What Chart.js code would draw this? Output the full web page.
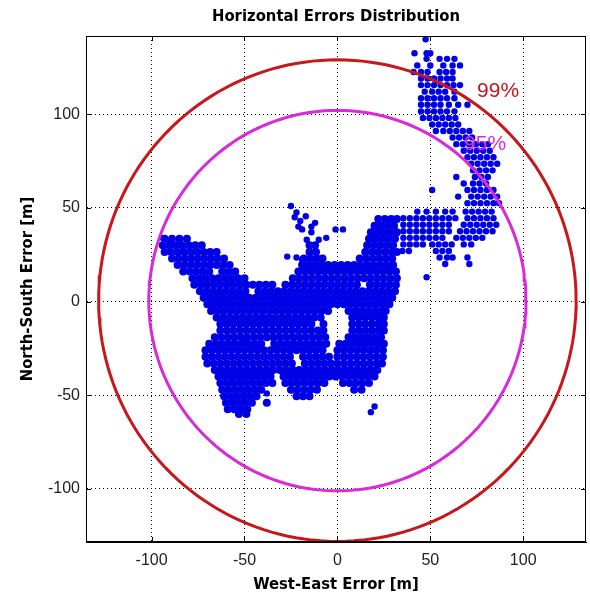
<!DOCTYPE html>
<html><head><meta charset="utf-8">
<script src="https://cdn.jsdelivr.net/npm/chart.js@4"></script>
<style>html,body{margin:0;padding:0;background:#fff}</style>
</head><body>
<canvas id="c" width="590" height="597"></canvas>
<script>
// ---------- data ----------
const chartTitle = 'Horizontal Errors Distribution';
const xAxisTitle = 'West-East Error [m]';
const yAxisTitle = 'North-South Error [m]';
const xTickValues = [-100, -50, 0, 50, 100];
const yTickValues = [-100, -50, 0, 50, 100];
const xRange = [-135.3, 133.8];
const yRange = [-128.3, 141.7];
const circleCenter = [0, 0.5];
const radius99 = 128.5;
const radius95 = 101.5;
const label99 = {text: '99%', x: 86.5, y: 112};
const label95 = {text: '95%', x: 79.5, y: 84};

// dense central cloud: north error of each row, and east errors of the dots in that row
const coreNorth = [
  44, 40.5, 37, 33.5, 30, 26.5, 23, 19.5, 16, 12.5, 9, 5.5, 2, -1.5, -5, -8.5, -12, -15.5, -19,
  -22.5, -26, -29.5, -33, -36.5, -40, -43.5, -47, -50.5, -54, -57.5, -60
];
const coreEast = [
  [22, 25.5, 29, 32],
  [20, 23.5, 27, 30.5],
  [18, 21.5, 25, 28.5, 32],
  [-93, -89, -85, -81, 17, 20.5, 24, 27.5, 31],
  [-94, -90.5, -87, -83.5, -80, -76.5, -73, -15, -12, 16, 19.5, 23, 26.5, 30],
  [-93, -89.5, -86, -82.5, -79, -75.5, -72, -68.5, -65, -15, -11.5, 15, 18.5, 22, 25.5, 29, 32],
  [-89, -85.5, -82, -78.5, -75, -71.5, -68, -64.5, -61, -18, -14.5, -11, -8, 12, 15.5, 19, 22.5, 26, 29.5],
  [-86, -82.5, -79, -75.5, -72, -68.5, -65, -61.5, -58, -19, -15.5, -12, -8.5, -5, -1.5, 2, 5.5, 9, 12.5, 16, 19.5, 23, 26.5, 30],
  [-83, -79.5, -76, -72.5, -69, -62, -58.5, -55, -21, -17.5, -14, -10.5, -7, -3.5, 0, 3.5, 7, 10.5, 14, 17.5, 21, 24.5, 28, 31.5],
  [-78, -74.5, -71, -67.5, -64, -60.5, -57, -53.5, -50, -24, -20.5, -17, -13.5, -10, -6.5, -3, 0.5, 4, 7.5, 11, 14.5, 18, 21.5, 25, 28.5, 32],
  [-77, -73.5, -70, -66.5, -63, -59.5, -56, -52.5, -49, -45.5, -42, -38.5, -35, -28, -24.5, -21, -17.5, -14, -10.5, -7, -3.5, 0, 3.5, 7, 10.5, 17.5, 21, 24.5, 28, 31.5],
  [-74, -70.5, -67, -63.5, -60, -56.5, -53, -49.5, -42.5, -39, -35.5, -32, -28.5, -25, -21.5, -18, -14.5, -11, -7.5, -4, -0.5, 3, 6.5, 10, 13.5, 17, 20.5, 24, 27.5, 31],
  [-72, -68.5, -65, -61.5, -58, -54.5, -51, -47.5, -44, -40.5, -37, -33.5, -30, -26.5, -23, -19.5, -16, -12.5, -9, -5.5, -2, 1.5, 5, 8.5, 12, 15.5, 19, 22.5, 26, 29.5],
  [-70, -66.5, -63, -59.5, -56, -52.5, -49, -45.5, -42, -38.5, -35, -31.5, -28, -24.5, -21, -17.5, -14, -10.5, -7, -3.5, 0, 3.5, 7, 10.5, 14, 17.5, 21, 24.5, 28],
  [-68, -64.5, -61, -57.5, -54, -50.5, -47, -43.5, -40, -36.5, -33, -29.5, -26, -22.5, -19, -15.5, -12, -8.5, -5, 6, 9.5, 13, 16.5, 20, 23.5, 26],
  [-65, -61.5, -58, -54.5, -51, -47.5, -44, -40.5, -37, -33.5, -30, -26.5, -23, -19.5, -16, -12.5, -9, 8, 11.5, 15, 18.5, 22, 25],
  [-63, -59.5, -56, -52.5, -49, -45.5, -42, -38.5, -35, -31.5, -28, -24.5, -21, -17.5, -14, -7.5, 8, 11.5, 15, 18.5, 22, 25],
  [-63, -59.5, -56, -52.5, -49, -45.5, -42, -38.5, -35, -31.5, -28, -24.5, -21, -17.5, -14, -10.5, -7.5, 8, 11.5, 15, 18.5, 22, 25],
  [-66, -62.5, -59, -55.5, -52, -48.5, -45, -41.5, -38, -34.5, -31, -27.5, -24, -20.5, -17, -13.5, -10, -6.5, 6, 9.5, 13, 16.5, 20, 23.5],
  [-69, -65.5, -62, -58.5, -55, -51.5, -48, -44.5, -41, -34, -30.5, -27, -23.5, -20, -16.5, -13, -9.5, -6, 1, 4.5, 8, 11.5, 15, 18.5, 22, 25],
  [-71, -67.5, -64, -60.5, -57, -53.5, -50, -46.5, -43, -39.5, -36, -32.5, -29, -25.5, -22, -18.5, -15, -11.5, -8, 0, 3.5, 7, 10.5, 14, 17.5, 21, 24.5],
  [-71, -67.5, -64, -60.5, -57, -53.5, -50, -46.5, -43, -39.5, -36, -32.5, -29, -25.5, -18.5, -15, -11.5, -8, -4.5, 0, 3.5, 7, 10.5, 14, 17.5, 21, 24.5],
  [-70, -66.5, -63, -59.5, -56, -52.5, -49, -45.5, -42, -38.5, -35, -31.5, -28, -24.5, -17.5, -14, -10.5, -7, -3.5, 0, 3.5, 7, 10.5, 14, 17.5, 21, 24],
  [-66, -62.5, -59, -55.5, -52, -48.5, -45, -41.5, -38, -34.5, -31, -27.5, -24, -20.5, -17, -13.5, -10, -6.5, -3, 0.5, 4, 7.5, 11, 14.5, 18, 21.5],
  [-64, -60.5, -57, -53.5, -50, -46.5, -43, -39.5, -36, -29, -25.5, -22, -18.5, -15, -11.5, -8, -4.5, -1, 2.5, 6, 9.5, 13, 16.5, 20],
  [-63, -59.5, -56, -52.5, -49, -45.5, -42, -38.5, -35, -28, -24.5, -21, -17.5, -14, -10.5, -7, 3, 6.5, 10, 13.5, 17],
  [-62, -58.5, -55, -51.5, -48, -44.5, -41, -25, -21.5, -18, -14.5, -11, 9, 13],
  [-61, -57.5, -54, -50.5, -47, -43.5, -22, -18.5, -15],
  [-60, -56.5, -53, -49.5, -46, -38],
  [-59, -55.5, -52, -48.5],
  [-53, -49]
];
// north-east arms: north error of each row, and east errors of the dots in that row
const armNorth = [
  48, 44.5, 41, 37.5, 34, 30.5, 27, 23.5, 20, 13,
  52.5, 56, 59.5, 63, 66.5, 70, 73.5, 77, 80.5, 84, 87.5, 91, 94.5, 98, 101.5, 105, 108.5, 112,
  115.5, 119, 122.5, 126, 129.5, 132.5, 140
];
const armEast = [
  [43, 48, 53, 58, 62, 69, 72.5, 76, 79.5, 83],
  [35.5, 39, 42.5, 46, 49.5, 53, 56.5, 60, 63.5, 70, 73.5, 77, 80.5, 84],
  [35.5, 39, 42.5, 46, 49.5, 53, 56.5, 60, 68, 71.5, 75, 78.5, 82, 85.5],
  [35.5, 39, 42.5, 46, 49.5, 53, 56.5, 60, 66, 69.5, 73, 76.5, 80, 83.5],
  [35.5, 39, 42.5, 46, 49.5, 53, 56.5, 64, 67.5, 71, 74.5, 78],
  [35.5, 39, 42.5, 46, 51, 54.5, 58, 61.5, 68, 72],
  [35, 38.5, 53, 56.5, 60],
  [55, 59, 62, 70],
  [58, 71],
  [48],
  [70, 73.5, 77, 80.5, 84, 87],
  [65, 72, 75.5, 79, 82.5, 86],
  [51, 70, 73.5, 77, 80.5, 84],
  [68, 73, 76.5, 80],
  [64, 74, 77.5, 81],
  [73, 76.5, 80, 83.5],
  [72, 75.5, 79, 82.5, 86],
  [70, 73.5, 77, 80.5, 84],
  [68, 71.5, 75, 78.5, 82],
  [64, 67.5, 71, 74.5, 78, 81],
  [62, 65.5, 69, 72.5],
  [53, 57, 60.5, 64, 67.5, 71],
  [51, 54.5, 58, 61.5, 65],
  [46, 49.5, 53, 56.5, 60, 63.5],
  [45, 48.5, 52, 55.5, 59, 63],
  [45, 48.5, 52, 55.5, 60, 65, 70],
  [45, 48.5, 52, 55.5, 59, 63],
  [47, 51, 54.5, 58, 63],
  [45, 48.5, 52, 55.5, 59, 62.5, 66],
  [45, 48.5, 52, 55.5, 59, 62],
  [41, 45, 48.5, 55, 58.5, 62],
  [43, 50, 57, 62, 66],
  [48, 55, 59, 63],
  [41.5, 48, 50],
  [47.5]
];
// isolated dots (east, north)
const scatteredDots = [
  [-25, 51], [-22, 47.5], [-23, 45], [-17, 45.5], [-21, 40], [-19, 38.5], [-14, 40], [-14, 37],
  [-16.5, 33], [-10, 33], [-6, 34], [-27, 24], [-22, 23.5], [-19, 22.5], [-1, 38.5], [3, 38.5],
  [-20, 43], [-12, 42], [20, -56], [18, -59], [-38, -49], [-94, 34], [-90, 31.5], [-72, 4]
];

// ---------- build chart ----------
function rowsToPoints(norths, easts) {
  const pts = [];
  norths.forEach((n, i) => easts[i].forEach(e => pts.push({x: e, y: n})));
  return pts;
}
const corePoints = rowsToPoints(coreNorth, coreEast);
const armPoints = rowsToPoints(armNorth, armEast).concat(scatteredDots.map(d => ({x: d[0], y: d[1]})));

function circlePoints(r) {
  const pts = [];
  for (let a = 0; a <= 360; a += 2) {
    const t = a * Math.PI / 180;
    pts.push({x: circleCenter[0] + r * Math.cos(t), y: circleCenter[1] + r * Math.sin(t)});
  }
  return pts;
}

const narrowBold = {family: "'Liberation Sans Narrow', 'Arial Narrow', 'DejaVu Sans Condensed', sans-serif", size: 16.5, weight: 'bold', lineHeight: 1.2};
const tickFont = {family: "'Liberation Sans', Arial, sans-serif", size: 16, lineHeight: 1.2};
const dotBlue = '#0000e6';

function drawLabel(chart, lab, color) {
  const {ctx, scales: {x, y}} = chart;
  ctx.save();
  ctx.font = "21px 'Liberation Sans', Arial, sans-serif";
  ctx.textAlign = 'center';
  ctx.textBaseline = 'middle';
  ctx.fillStyle = color;
  ctx.fillText(lab.text, x.getPixelForValue(lab.x), y.getPixelForValue(lab.y));
  ctx.restore();
}

const frame = {
  id: 'frame',
  afterDatasetsDraw(chart) {
    const {ctx, chartArea: a, scales: {x, y}} = chart;
    drawLabel(chart, label99, '#c8161b');
    drawLabel(chart, label95, '#d82ad8');
    ctx.save();
    ctx.strokeStyle = '#000';
    ctx.lineWidth = 1;
    ctx.strokeRect(Math.round(a.left) + 0.5, Math.round(a.top) + 0.5, Math.round(a.right - a.left) - 1, Math.round(a.bottom - a.top) - 1);
    ctx.beginPath();
    xTickValues.forEach(v => {
      const p = Math.round(x.getPixelForValue(v)) + 0.5;
      ctx.moveTo(p, a.bottom); ctx.lineTo(p, a.bottom - 5);
      ctx.moveTo(p, a.top); ctx.lineTo(p, a.top + 5);
    });
    yTickValues.forEach(v => {
      const p = Math.round(y.getPixelForValue(v)) + 0.5;
      ctx.moveTo(a.left, p); ctx.lineTo(a.left + 5, p);
      ctx.moveTo(a.right, p); ctx.lineTo(a.right - 5, p);
    });
    ctx.stroke();
    ctx.restore();
  }
};

new Chart(document.getElementById('c'), {
  type: 'scatter',
  data: {
    datasets: [
      {label: '99%', data: circlePoints(radius99), showLine: true, borderColor: '#c8161b', borderWidth: 3, pointRadius: 0, tension: 0},
      {label: '95%', data: circlePoints(radius95), showLine: true, borderColor: '#d82ad8', borderWidth: 3, pointRadius: 0, tension: 0},
      {label: 'Errors (arms)', data: armPoints, backgroundColor: dotBlue, borderWidth: 0, pointRadius: 3.2, pointHoverRadius: 3.2},
      {label: 'Errors (core)', data: corePoints, backgroundColor: dotBlue, borderWidth: 0, pointRadius: 4.0, pointHoverRadius: 4.0}
    ]
  },
  options: {
    responsive: false,
    animation: false,
    devicePixelRatio: 1,
    events: [],
    layout: {padding: {left: 0, right: 2, top: 0, bottom: 0}},
    plugins: {
      legend: {display: false},
      tooltip: {enabled: false},
      title: {display: true, fullSize: false, text: chartTitle, color: '#000', font: narrowBold, padding: {top: 7, bottom: 9.2}}
    },
    scales: {
      x: {
        type: 'linear', min: xRange[0], max: xRange[1],
        afterBuildTicks: s => { s.ticks = xTickValues.map(v => ({value: v})); },
        afterFit: s => { s.height = 55; },
        grid: {color: '#000', lineWidth: 1, drawTicks: false},
        border: {display: true, color: '#000', width: 1, dash: [1, 3]},
        ticks: {padding: 9.4, color: '#222', font: tickFont, maxRotation: 0},
        title: {display: true, text: xAxisTitle, color: '#000', font: narrowBold, padding: {top: 0, bottom: 2.2}}
      },
      y: {
        type: 'linear', min: yRange[0], max: yRange[1],
        afterBuildTicks: s => { s.ticks = yTickValues.map(v => ({value: v})); },
        afterFit: s => { s.width = 86; },
        grid: {color: '#000', lineWidth: 1, drawTicks: false},
        border: {display: true, color: '#000', width: 1, dash: [1, 3]},
        ticks: {padding: 6, color: '#222', font: tickFont},
        title: {display: true, text: yAxisTitle, color: '#000', font: narrowBold, padding: {top: 18, bottom: 0}}
      }
    }
  },
  plugins: [frame]
});
</script>
</body></html>
